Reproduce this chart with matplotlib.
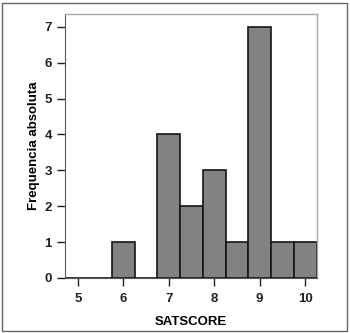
import numpy as np
import matplotlib
matplotlib.use("Agg")
import matplotlib.pyplot as plt
from matplotlib.patches import Rectangle

# dados do histograma (centros das classes e frequencias)
centros = [5.0, 5.5, 6.0, 6.5, 7.0, 7.5, 8.0, 8.5, 9.0, 9.5, 10.0]
freq = [0, 0, 1, 0, 4, 2, 3, 1, 7, 1, 1]
xticks = [5, 6, 7, 8, 9, 10]
yticks = [0, 1, 2, 3, 4, 5, 6, 7]

plt.rcParams['font.family'] = ['Liberation Sans', 'DejaVu Sans']
plt.rcParams['font.weight'] = 'bold'

W, H = 350, 333
fig = plt.figure(figsize=(W / 100, H / 100), dpi=100)
ax = fig.add_axes([65 / W, 1 - 278 / H, (317 - 65) / W, (278 - 14) / H])

ax.bar(centros, freq, width=0.5, color='#828282', edgecolor='#151515', linewidth=1.2)

ax.set_xlim(4.72, 10.26)
ax.set_ylim(0, (278 - 14) / 35.9)
ax.set_xticks(xticks)
ax.set_yticks(yticks)
ax.tick_params(axis='both', labelsize=9.5, colors='#222222', length=6, width=1, direction='out')
ax.tick_params(axis='x', pad=5)

for s in ['top', 'right']:
    ax.spines[s].set_color('#aaaaaa')
    ax.spines[s].set_linewidth(1)
ax.spines['left'].set_color('#555555')
ax.spines['bottom'].set_color('#555555')

ax.set_xlabel('SATSCORE', fontsize=9.5, fontweight='bold', labelpad=8)
ax.set_ylabel('Frequencia absoluta', fontsize=9.5, fontweight='bold', labelpad=3)

# moldura externa
fig.patches.append(Rectangle((2 / W, 2 / H), (W - 5) / W, (H - 5) / H,
                             transform=fig.transFigure, fill=False,
                             edgecolor='#666666', linewidth=1))

fig.savefig('out.png', dpi=100)
